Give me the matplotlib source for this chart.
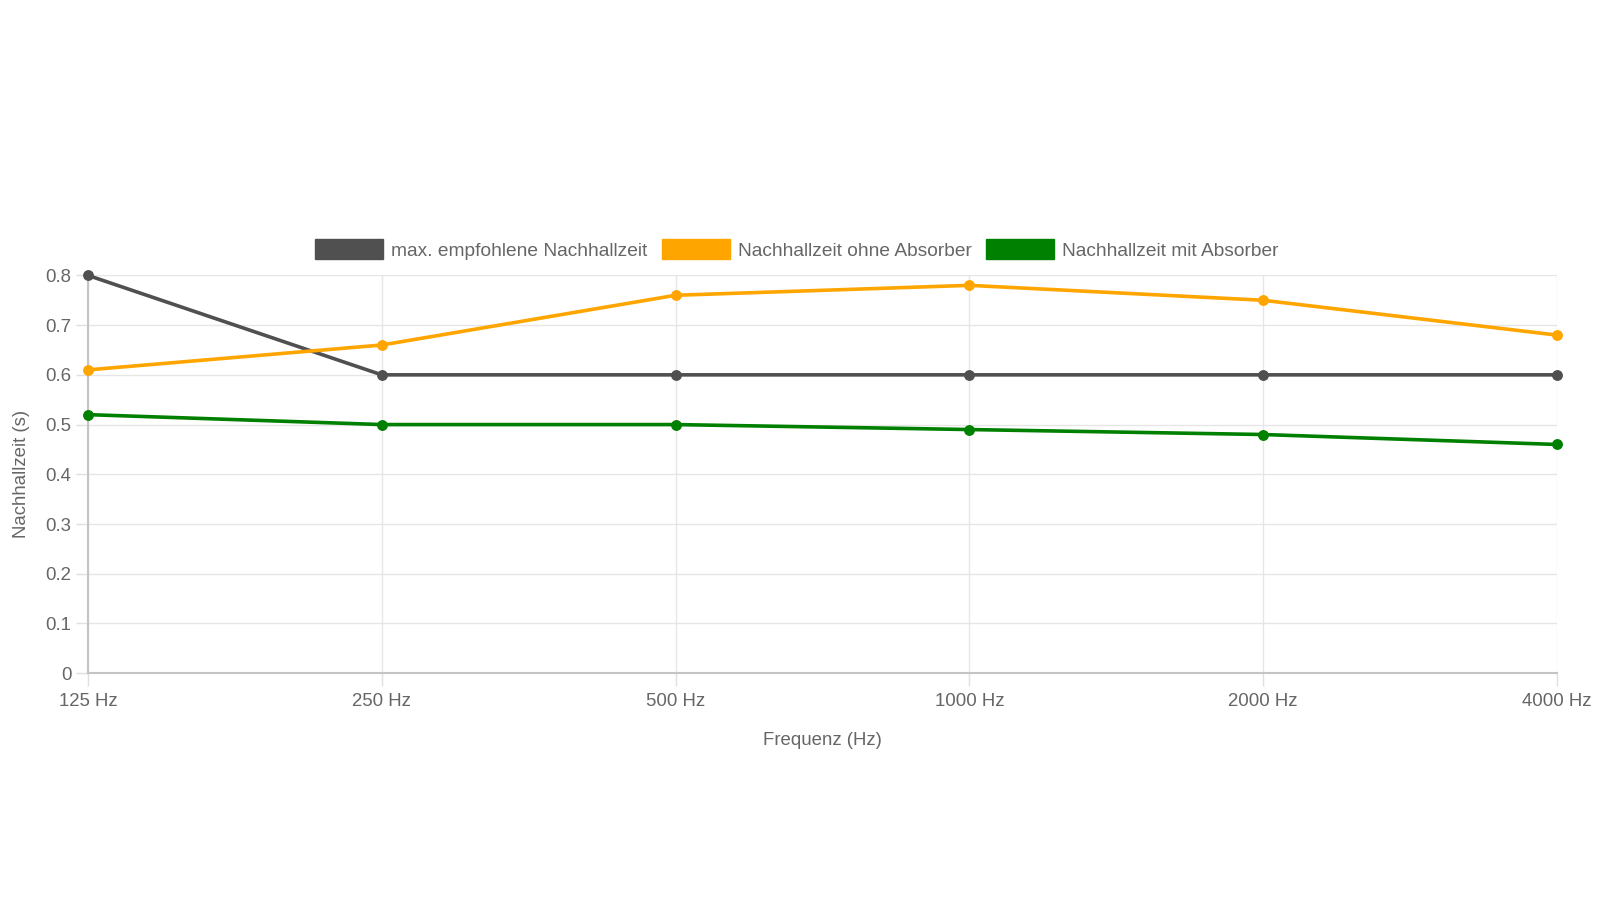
import matplotlib.pyplot as plt
from matplotlib.patches import Patch

# data
frequencies = ["125 Hz", "250 Hz", "500 Hz", "1000 Hz", "2000 Hz", "4000 Hz"]
max_recommended = [0.8, 0.6, 0.6, 0.6, 0.6, 0.6]
without_absorber = [0.61, 0.66, 0.76, 0.78, 0.75, 0.68]
with_absorber = [0.52, 0.50, 0.50, 0.49, 0.48, 0.46]
y_ticks = [0, 0.1, 0.2, 0.3, 0.4, 0.5, 0.6, 0.7, 0.8]
y_tick_labels = ["0", "0.1", "0.2", "0.3", "0.4", "0.5", "0.6", "0.7", "0.8"]

series = [
    ("max. empfohlene Nachhallzeit", max_recommended, "#505050"),
    ("Nachhallzeit ohne Absorber", without_absorber, "#ffa500"),
    ("Nachhallzeit mit Absorber", with_absorber, "#008000"),
]

plt.rcParams['font.family'] = ['Liberation Sans', 'DejaVu Sans']
text_color = "#666666"

fig = plt.figure(figsize=(16, 9), dpi=100)
ax = fig.add_axes([0.055, 0.252, 0.918, 0.442])

x = list(range(len(frequencies)))
for label, values, color in series:
    ax.plot(x, values, color=color, lw=2.6, marker="o", markersize=6.8,
            label=label, zorder=3, clip_on=False)

ax.set_xlim(0, len(frequencies) - 1)
ax.set_ylim(0, 0.8)
ax.set_xticks(x)
ax.set_xticklabels(frequencies)
ax.set_yticks(y_ticks)
ax.set_yticklabels(y_tick_labels)

ax.grid(True, color="#e6e6e6", lw=1)
ax.tick_params(axis="both", colors="#e0e0e0", labelcolor=text_color,
               labelsize=13.4, length=9, width=1)
ax.tick_params(axis="x", pad=5)
ax.tick_params(axis="y", pad=3)
for s in ["top", "right"]:
    ax.spines[s].set_visible(False)
for s in ["left", "bottom"]:
    ax.spines[s].set_color("#c4c4c4")
    ax.spines[s].set_linewidth(1.5)

ax.set_xlabel("Frequenz (Hz)", color=text_color, fontsize=13.4, labelpad=16)
ax.set_ylabel("Nachhallzeit (s)", color=text_color, fontsize=13.4, labelpad=11)

handles = [Patch(facecolor=c, edgecolor=c, label=l) for l, _, c in series]
fig.legend(handles=handles, loc="center", bbox_to_anchor=(0.498, 0.723),
           ncol=3, frameon=False, fontsize=13.8, labelcolor=text_color,
           handlelength=3.55, handleheight=1.25, handletextpad=0.42,
           columnspacing=0.73)

fig.savefig("out.png", dpi=100, facecolor="white")
